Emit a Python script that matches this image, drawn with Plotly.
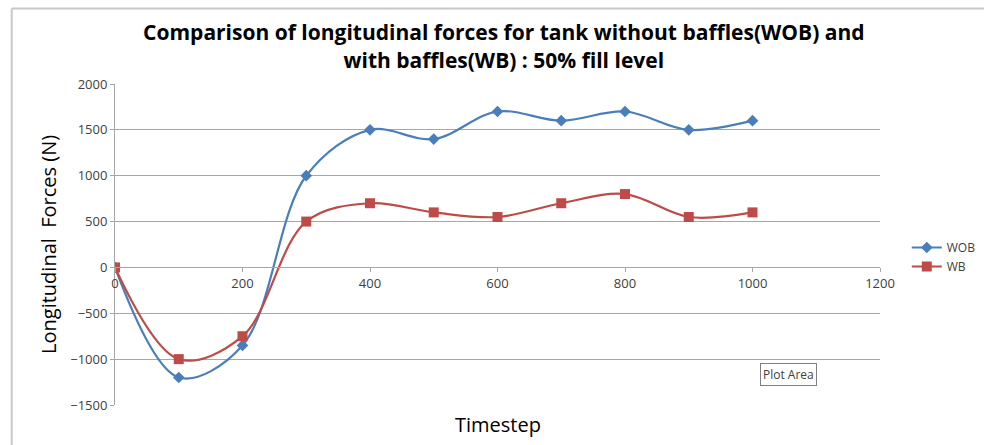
import plotly.graph_objects as go

# Longitudinal force readings at each timestep
timesteps = [0, 100, 200, 300, 400, 500, 600, 700, 800, 900, 1000]
wob_force = [0, -1200, -850, 1000, 1500, 1400, 1700, 1600, 1700, 1500, 1600]
wb_force = [0, -1000, -750, 500, 700, 600, 550, 700, 800, 550, 600]

y_min, y_max = -1500, 2000
x_ticks = [0, 200, 400, 600, 800, 1000, 1200]
y_ticks = [-1500, -1000, -500, 0, 500, 1000, 1500, 2000]

fig = go.Figure()
fig.add_trace(go.Scatter(
    x=timesteps, y=wob_force, name="WOB", mode="lines+markers",
    line=dict(color="#4A7EBB", width=2.2, shape="spline", smoothing=1.0),
    marker=dict(symbol="diamond", size=9, color="#4A7EBB"),
))
fig.add_trace(go.Scatter(
    x=timesteps, y=wb_force, name="WB", mode="lines+markers",
    line=dict(color="#BE4B48", width=2.2, shape="spline", smoothing=1.0),
    marker=dict(symbol="square", size=10, color="#BE4B48"),
))

# horizontal axis sits on the zero line
zero_pos = (0 - y_min) / (y_max - y_min)

fig.update_layout(
    width=984, height=445,
    margin=dict(l=115, r=104, t=84, b=40, autoexpand=False),
    paper_bgcolor="white", plot_bgcolor="white",
    font=dict(family="Open Sans, Liberation Sans, sans-serif", color="#404040"),
    title=dict(
        text="Comparison of longitudinal forces for tank without baffles(WOB) and<br>with baffles(WB) : 50% fill level",
        x=0.512, xanchor="center", y=0.909, yanchor="middle",
        font=dict(size=21, color="#000000", family="Open Sans, sans-serif", weight="bold"),
    ),
    xaxis=dict(
        range=[0, 1200], tickvals=x_ticks, showgrid=False, zeroline=False,
        showline=True, linecolor="#A6A6A6", linewidth=1,
        ticks="outside", ticklen=4, tickcolor="#A6A6A6",
        anchor="free", position=zero_pos,
        tickfont=dict(size=13, color="#404040"),
    ),
    yaxis=dict(
        range=[y_min, y_max], tickvals=y_ticks, showgrid=True, gridcolor="#A6A6A6",
        gridwidth=1, zeroline=False, showline=True, linecolor="#A6A6A6",
        ticks="outside", ticklen=4, tickcolor="#A6A6A6",
        tickfont=dict(size=13, color="#404040"),
    ),
    legend=dict(
        x=1.035, y=0.461, xanchor="left", yanchor="middle",
        font=dict(size=12, color="#404040"), bgcolor="rgba(0,0,0,0)",
        tracegroupgap=6, itemwidth=30,
    ),
    annotations=[
        dict(text="Timestep", xref="paper", yref="paper", x=0.5, y=-0.012,
             xanchor="center", yanchor="top", showarrow=False,
             font=dict(size=20, color="#000000")),
        dict(text="Longitudinal  Forces (N)", xref="paper", yref="paper",
             x=-0.087, y=0.5, xanchor="center", yanchor="middle", textangle=-90,
             showarrow=False, font=dict(size=20, color="#000000")),
        dict(text="Plot Area", xref="paper", yref="paper", x=0.88, y=0.095,
             xanchor="center", yanchor="middle", showarrow=False,
             font=dict(size=12, color="#404040"), bordercolor="#808080",
             borderwidth=1, borderpad=2, bgcolor="white"),
    ],
    shapes=[
        dict(type="line", xref="paper", yref="paper", x0=-0.135, x1=1.2,
             y0=1.235, y1=1.235, line=dict(color="#C8C8C8", width=2)),
        dict(type="line", xref="paper", yref="paper", x0=-0.135, x1=-0.135,
             y0=-0.13, y1=1.235, line=dict(color="#C8C8C8", width=2)),
    ],
)

fig.write_html("out.html")
